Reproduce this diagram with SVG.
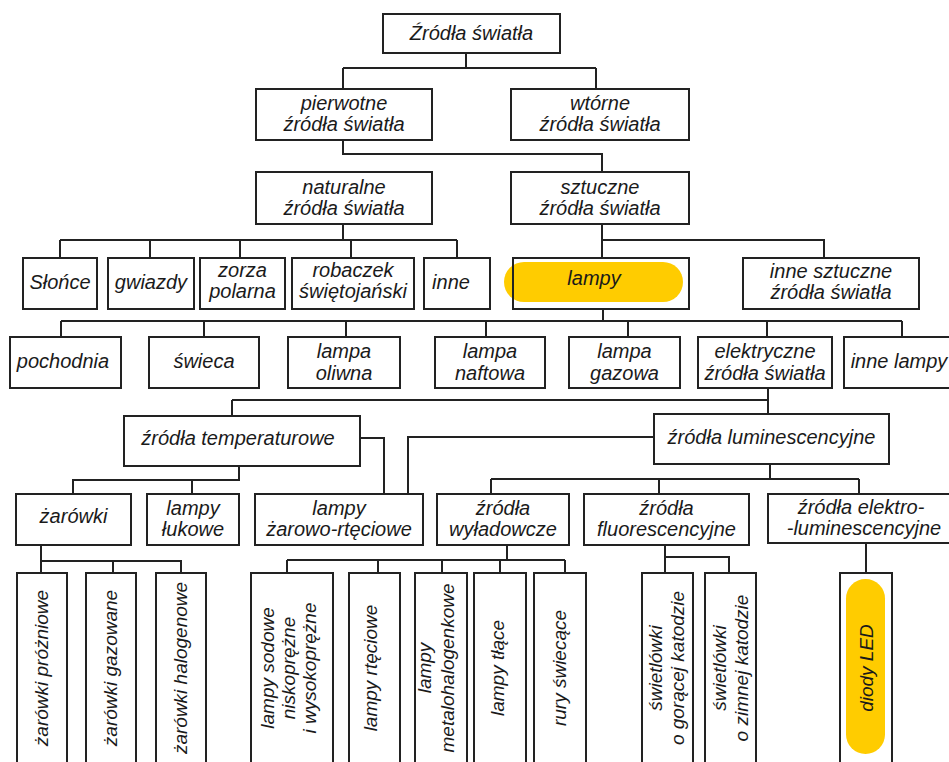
<svg xmlns="http://www.w3.org/2000/svg" width="949" height="762" viewBox="0 0 949 762">
<style>
.b{fill:#fff;stroke:#222;stroke-width:2}
.o{fill:none;stroke:#222;stroke-width:2}
.c{fill:none;stroke:#222;stroke-width:2}
.t{font-family:"Liberation Sans",Arial,sans-serif;font-style:italic;font-size:20px;fill:#1a1a1a;text-anchor:middle}
.v{font-family:"Liberation Sans",Arial,sans-serif;font-style:italic;font-size:19px;fill:#1a1a1a;text-anchor:middle}
.hl{fill:#FFCC00}
</style>
<rect width="949" height="762" fill="#fff"/>
<g id="connectors" class="c">
<path d="M466 53V68M343 68H596M343 68V89M596 68V89"/>
<path d="M343 140V154H602V172"/>
<path d="M343 224V240M60 240H457M60 240V258M150 240V258M240 240V258M351 240V258M457 240V258"/>
<path d="M602 224V240H824V258M602 240V258"/>
<path d="M603 309V321M61 321H902M61 321V337M204 321V337M346 321V337M486 321V337M628 321V337M767 321V337M902 321V337"/>
<path d="M768 388V415M232 400H768M232 400V416"/>
<path d="M360 438H384V494M654 437H408V494"/>
<path d="M239 466V480H73V494M192 480V494"/>
<path d="M770 464V479M491 479H859M491 479V494M659 479V494M859 479V494"/>
<path d="M41 545V573M41 561H181V573M113 561V573"/>
<path d="M507 545V560M287 560H565M287 560V573M378 560V573M442 560V573M500 560V573M565 560V573"/>
<path d="M665 545V573M665 557H729V573"/>
<path d="M866 543V573"/>
</g>
<g id="n-root"><rect class="b" x="383" y="14" width="177" height="39"/><text class="t" x="471.5" y="40">Źródła światła</text></g>
<g id="n-pierwotne"><rect class="b" x="256" y="89" width="176" height="51"/><text class="t" x="344" y="110">pierwotne</text><text class="t" x="344" y="131">źródła światła</text></g>
<g id="n-wtorne"><rect class="b" x="511" y="89" width="178" height="51"/><text class="t" x="600" y="110">wtórne</text><text class="t" x="600" y="131">źródła światła</text></g>
<g id="n-naturalne"><rect class="b" x="256" y="172" width="176" height="52"/><text class="t" x="344" y="194">naturalne</text><text class="t" x="344" y="215">źródła światła</text></g>
<g id="n-sztuczne"><rect class="b" x="511" y="172" width="178" height="52"/><text class="t" x="600" y="194">sztuczne</text><text class="t" x="600" y="215">źródła światła</text></g>
<g id="n-slonce"><rect class="b" x="23" y="258" width="74" height="51"/><text class="t" x="60" y="289">Słońce</text></g>
<g id="n-gwiazdy"><rect class="b" x="108" y="258" width="86" height="51"/><text class="t" x="151" y="289">gwiazdy</text></g>
<g id="n-zorza"><rect class="b" x="200" y="258" width="85" height="51"/><text class="t" x="242.5" y="277">zorza</text><text class="t" x="242.5" y="298">polarna</text></g>
<g id="n-robaczek"><rect class="b" x="292" y="258" width="122" height="51"/><text class="t" x="353" y="277">robaczek</text><text class="t" x="353" y="298">świętojański</text></g>
<g id="n-inne"><rect class="b" x="424" y="258" width="66" height="51"/><text class="t" x="451" y="289">inne</text></g>
<g id="n-lampy"><rect class="b" x="513" y="258" width="176" height="51"/><rect class="hl" x="504" y="262" width="179" height="40" rx="20"/><rect class="o" x="513" y="258" width="176" height="51"/><text class="t" x="594" y="285">lampy</text></g>
<g id="n-inne-sztuczne"><rect class="b" x="743" y="258" width="176" height="51"/><text class="t" x="831" y="278">inne sztuczne</text><text class="t" x="831" y="299">źródła światła</text></g>
<g id="n-pochodnia"><rect class="b" x="10" y="337" width="111" height="51"/><text class="t" x="63" y="368">pochodnia</text></g>
<g id="n-swieca"><rect class="b" x="149" y="337" width="110" height="51"/><text class="t" x="204" y="368">świeca</text></g>
<g id="n-oliwna"><rect class="b" x="288" y="337" width="112" height="51"/><text class="t" x="344" y="358">lampa</text><text class="t" x="344" y="380">oliwna</text></g>
<g id="n-naftowa"><rect class="b" x="435" y="337" width="110" height="51"/><text class="t" x="490" y="358">lampa</text><text class="t" x="490" y="380">naftowa</text></g>
<g id="n-gazowa"><rect class="b" x="569" y="337" width="111" height="51"/><text class="t" x="624.5" y="358">lampa</text><text class="t" x="624.5" y="380">gazowa</text></g>
<g id="n-elektryczne"><rect class="b" x="698" y="337" width="134" height="51"/><text class="t" x="765" y="358">elektryczne</text><text class="t" x="765" y="380">źródła światła</text></g>
<g id="n-inne-lampy"><rect class="b" x="844" y="337" width="120" height="51"/><text class="t" x="899" y="368">inne lampy</text></g>
<g id="n-temperaturowe"><rect class="b" x="124" y="416" width="236" height="50"/><text class="t" x="238" y="445">źródła temperaturowe</text></g>
<g id="n-luminescencyjne"><rect class="b" x="654" y="414" width="235" height="50"/><text class="t" x="771.5" y="444">źródła luminescencyjne</text></g>
<g id="n-zarowki"><rect class="b" x="16" y="494" width="115" height="51"/><text class="t" x="73.5" y="523">żarówki</text></g>
<g id="n-lukowe"><rect class="b" x="147" y="494" width="92" height="51"/><text class="t" x="193" y="515">lampy</text><text class="t" x="193" y="536">łukowe</text></g>
<g id="n-zarowo"><rect class="b" x="255" y="494" width="168" height="51"/><text class="t" x="339" y="515">lampy</text><text class="t" x="339" y="536">żarowo-rtęciowe</text></g>
<g id="n-wyladowcze"><rect class="b" x="437" y="494" width="132" height="51"/><text class="t" x="503" y="515">źródła</text><text class="t" x="503" y="536">wyładowcze</text></g>
<g id="n-fluorescencyjne"><rect class="b" x="584" y="494" width="165" height="51"/><text class="t" x="666.5" y="515">źródła</text><text class="t" x="666.5" y="536">fluorescencyjne</text></g>
<g id="n-elektroluminescencyjne"><rect class="b" x="768" y="494" width="195" height="49"/><text class="t" x="861" y="514">źródła elektro-</text><text class="t" x="864" y="535">-luminescencyjne</text></g>
<g id="n-prozniowe"><rect class="b" x="17" y="573" width="50" height="205"/><text class="v" transform="translate(48 668) rotate(-90)">żarówki próżniowe</text></g>
<g id="n-gazowane"><rect class="b" x="86" y="573" width="50" height="205"/><text class="v" transform="translate(117 668) rotate(-90)">żarówki gazowane</text></g>
<g id="n-halogenowe"><rect class="b" x="156" y="573" width="50" height="205"/><text class="v" transform="translate(187 668) rotate(-90)">żarówki halogenowe</text></g>
<g id="n-sodowe"><rect class="b" x="251" y="573" width="82" height="205"/><text class="v" transform="translate(274 668) rotate(-90)">lampy sodowe</text><text class="v" transform="translate(295 668) rotate(-90)">niskoprężne</text><text class="v" transform="translate(316 668) rotate(-90)">i wysokoprężne</text></g>
<g id="n-rteciowe"><rect class="b" x="349" y="573" width="51" height="205"/><text class="v" transform="translate(377 668) rotate(-90)">lampy rtęciowe</text></g>
<g id="n-metalohalogenkowe"><rect class="b" x="415" y="573" width="52" height="205"/><text class="v" transform="translate(431 668) rotate(-90)">lampy</text><text class="v" transform="translate(454 668) rotate(-90)">metalohalogenkowe</text></g>
<g id="n-tlace"><rect class="b" x="474" y="573" width="52" height="205"/><text class="v" transform="translate(504 668) rotate(-90)">lampy tłące</text></g>
<g id="n-rury"><rect class="b" x="534" y="573" width="52" height="205"/><text class="v" transform="translate(566 668) rotate(-90)">rury świecące</text></g>
<g id="n-goracej"><rect class="b" x="642" y="573" width="51" height="205"/><text class="v" transform="translate(662 668) rotate(-90)">świetlówki</text><text class="v" transform="translate(684 668) rotate(-90)">o gorącej katodzie</text></g>
<g id="n-zimnej"><rect class="b" x="705" y="573" width="51" height="205"/><text class="v" transform="translate(726 668) rotate(-90)">świetlówki</text><text class="v" transform="translate(748 668) rotate(-90)">o zimnej katodzie</text></g>
<g id="n-led"><rect class="b" x="840" y="573" width="52" height="205"/><rect class="hl" x="846" y="579" width="39" height="175" rx="19.5"/><text class="v" transform="translate(873 668) rotate(-90)">diody LED</text></g>
</svg>
